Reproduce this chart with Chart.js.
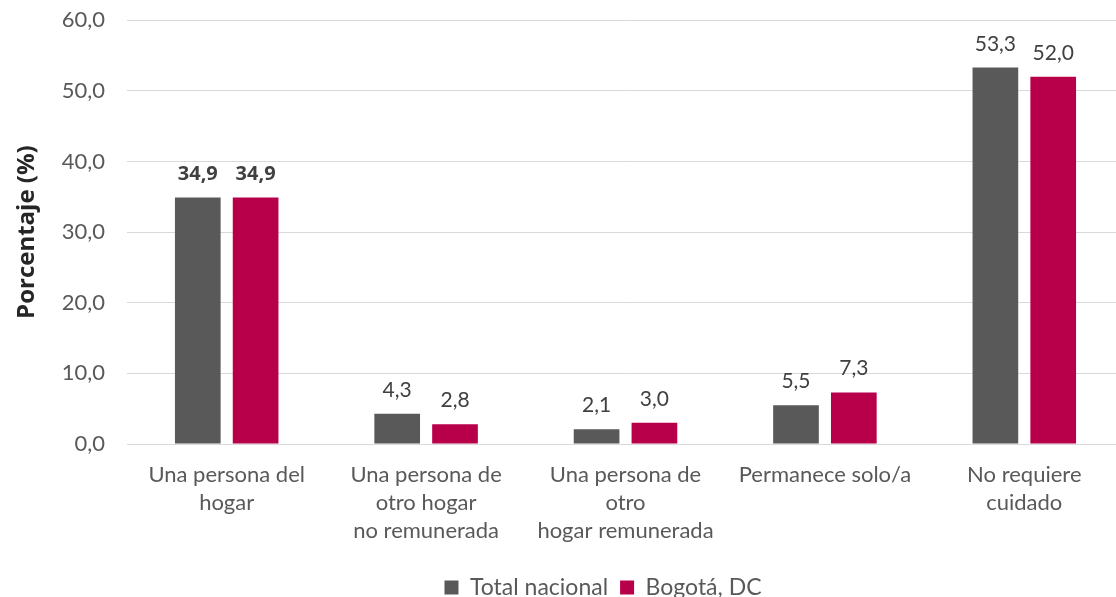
<!DOCTYPE html>
<html>
<head>
<meta charset="utf-8">
<script src="https://cdn.jsdelivr.net/npm/chart.js@4/dist/chart.umd.min.js"></script>
<style>
  html, body { margin: 0; padding: 0; background: #fff; overflow: hidden; }
  #wrap { width: 1124px; height: 624px; margin-top: -15px; }
</style>
</head>
<body>
<div id="wrap"><canvas id="chart"></canvas></div>
<script>
// Data
var categories = [
  ["Una persona del", "hogar"],
  ["Una persona de", "otro hogar", "no remunerada"],
  ["Una persona de", "otro", "hogar remunerada"],
  ["Permanece solo/a"],
  ["No requiere", "cuidado"]
];
var totalNacional = [34.9, 4.3, 2.1, 5.5, 53.3];
var bogota = [34.9, 2.8, 3.0, 7.3, 52.0];
var seriesNames = ["Total nacional", "Bogotá, DC"];
var yTicks = [0, 10, 20, 30, 40, 50, 60];

var FONT = "Lato, 'Open Sans', sans-serif";
var BOLD = "'Open Sans', Lato, sans-serif";

function fmt(v) {
  return v.toFixed(1).replace(".", ",");
}

// draws the value over each bar
var barLabels = {
  id: "barLabels",
  afterDatasetsDraw: function(chart) {
    var ctx = chart.ctx;
    ctx.save();
    ctx.textAlign = "center";
    ctx.textBaseline = "alphabetic";
    ctx.fillStyle = "#404040";
    chart.data.datasets.forEach(function(ds, i) {
      var meta = chart.getDatasetMeta(i);
      meta.data.forEach(function(bar, j) {
        ctx.font = j == 0 ? "bold 20px " + BOLD : "21px " + FONT;
        ctx.fillText(fmt(ds.data[j]), bar.x, bar.y - 17);
      });
    });
    ctx.restore();
  }
};

// legend sits a bit right of centre in the original
var legendShift = {
  id: "legendShift",
  afterLayout: function(chart) {
    chart.legend.left += 41;
    chart.legend.right += 41;
  }
};

var ctx = document.getElementById("chart").getContext("2d");
var chart = new Chart(ctx, {
  type: "bar",
  data: {
    labels: categories,
    datasets: [{
      label: seriesNames[0],
      data: totalNacional,
      backgroundColor: "#595959",
      categoryPercentage: 0.58,
      barPercentage: 0.79
    }, {
      label: seriesNames[1],
      data: bogota,
      backgroundColor: "#B8004A",
      categoryPercentage: 0.58,
      barPercentage: 0.79
    }]
  },
  options: {
    responsive: true,
    maintainAspectRatio: false,
    animation: false,
    layout: { padding: { top: 0, left: 0, right: 0, bottom: 0 } },
    plugins: {
      legend: {
        position: "bottom",
        labels: {
          boxWidth: 14,
          boxHeight: 14,
          padding: 12,
          color: "#595959",
          font: { family: FONT, size: 23 }
        }
      },
      tooltip: { enabled: false }
    },
    scales: {
      x: {
        afterFit: function(scale) { scale.height = 120; },
        grid: { display: false, drawTicks: false },
        border: { color: "#d9d9d9", width: 1 },
        ticks: {
          color: "#595959",
          padding: 17,
          maxRotation: 0,
          autoSkip: false,
          font: { family: FONT, size: 22, lineHeight: 1.27 }
        }
      },
      y: {
        min: 0,
        max: 60,
        afterFit: function(scale) { scale.width = 127; },
        afterBuildTicks: function(axis) {
          axis.ticks = yTicks.map(function(v) { return { value: v }; });
        },
        grid: { color: "#d9d9d9", lineWidth: 1, drawTicks: false },
        border: { display: false },
        ticks: {
          color: "#595959",
          padding: 22,
          font: { family: FONT, size: 22 },
          callback: function(v) { return fmt(v); }
        },
        title: {
          display: true,
          text: "Porcentaje (%)",
          color: "#262626",
          padding: { top: 13, bottom: 0 },
          font: { family: BOLD, size: 24, weight: "bold" }
        }
      }
    }
  },
  plugins: [barLabels, legendShift]
});
</script>
</body>
</html>
